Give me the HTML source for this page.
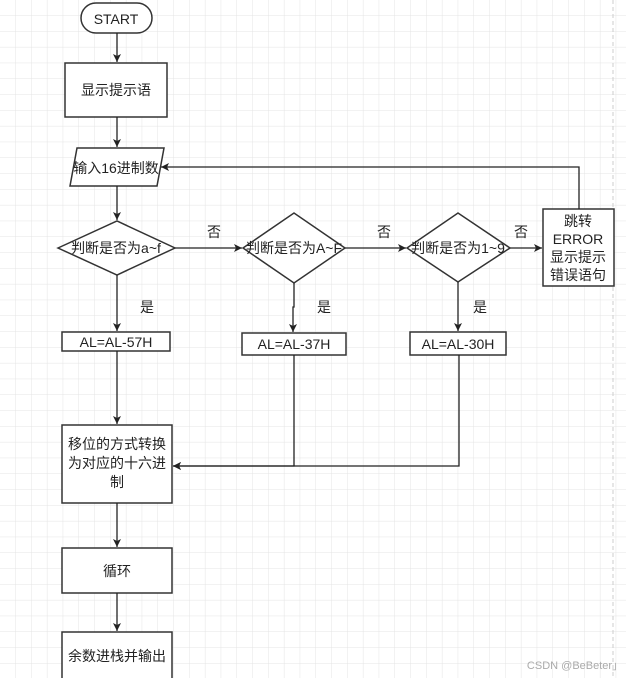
<!DOCTYPE html>
<html><head><meta charset="utf-8"><style>
body{margin:0;width:626px;height:678px;overflow:hidden;background:#fff;}
svg text{font-family:"Liberation Sans","Noto Sans CJK SC",sans-serif;fill:#222;}
</style></head><body>
<svg width="626" height="678" xmlns="http://www.w3.org/2000/svg">
<defs>
<pattern id="g" width="15.8" height="15.8" patternUnits="userSpaceOnUse">
<path d="M15.8 0V15.8H0" fill="none" stroke="#e4e4e4" stroke-width="1"/>
</pattern>
<marker id="a" markerWidth="10" markerHeight="10" refX="8" refY="4" orient="auto" markerUnits="userSpaceOnUse">
<path d="M0 0L8 4L0 8L2 4Z" fill="#222"/>
</marker>
</defs>
<rect width="626" height="678" fill="url(#g)"/>
<line x1="613" y1="0" x2="613" y2="678" stroke="#ccc" stroke-dasharray="4 3"/>
<g stroke="#333" stroke-width="1.5" fill="#fff">
<rect x="81" y="3" width="71" height="30" rx="15"/>
<rect x="65" y="63" width="102" height="54"/>
<polygon points="77,148 164,148 157,186 70,186"/>
<polygon points="58,248 117,221 175,248 117,275"/>
<polygon points="243,248 294,213 345,248 294,283"/>
<polygon points="407,248 458,213 510,248 458,282"/>
<rect x="543" y="209" width="71" height="77"/>
<rect x="62" y="332" width="108" height="19"/>
<rect x="242" y="333" width="104" height="22"/>
<rect x="410" y="332" width="96" height="23"/>
<rect x="62" y="425" width="110" height="78"/>
<rect x="62" y="548" width="110" height="45"/>
<rect x="62" y="632" width="110" height="50"/>
</g>
<g stroke="#222" stroke-width="1.3" fill="none" marker-end="url(#a)">
<line x1="117" y1="33" x2="117" y2="62"/>
<line x1="117" y1="117" x2="117" y2="147"/>
<line x1="117" y1="186" x2="117" y2="220"/>
<line x1="175" y1="248" x2="242" y2="248"/>
<line x1="345" y1="248" x2="406" y2="248"/>
<line x1="510" y1="248" x2="542" y2="248"/>
<path d="M579 209V167H161"/>
<line x1="117" y1="275" x2="117" y2="331"/>
<path d="M294 283V307H293V332"/>
<line x1="458" y1="282" x2="458" y2="331"/>
<line x1="117" y1="351" x2="117" y2="424"/>
<path d="M294 355V466H173"/>
<path d="M459 355V466H173"/>
<line x1="117" y1="503" x2="117" y2="547"/>
<line x1="117" y1="593" x2="117" y2="631"/>
</g>
<g font-size="14" text-anchor="middle">
<text x="116" y="24">START</text>
<text x="116" y="95">显示提示语</text>
<text x="116" y="173">输入16进制数</text>
<text x="116" y="253">判断是否为a~f</text>
<text x="294" y="253">判断是否为A~F</text>
<text x="458" y="253">判断是否为1~9</text>
<text x="578" y="226">跳转</text>
<text x="578" y="244">ERROR</text>
<text x="578" y="262">显示提示</text>
<text x="578" y="280">错误语句</text>
<text x="214" y="237">否</text>
<text x="384" y="237">否</text>
<text x="521" y="237">否</text>
<text x="147" y="312">是</text>
<text x="324" y="312">是</text>
<text x="480" y="312">是</text>
<text x="116" y="347">AL=AL-57H</text>
<text x="294" y="349">AL=AL-37H</text>
<text x="458" y="349">AL=AL-30H</text>
<text x="117" y="449">移位的方式转换</text>
<text x="117" y="468">为对应的十六进</text>
<text x="117" y="487">制</text>
<text x="117" y="576">循环</text>
<text x="117" y="661">余数进栈并输出</text>
<text x="575" y="669" font-size="11" fill="#aaa" style="fill:#aaa">CSDN @BeBeter」</text>
</g>
</svg>
</body></html>
